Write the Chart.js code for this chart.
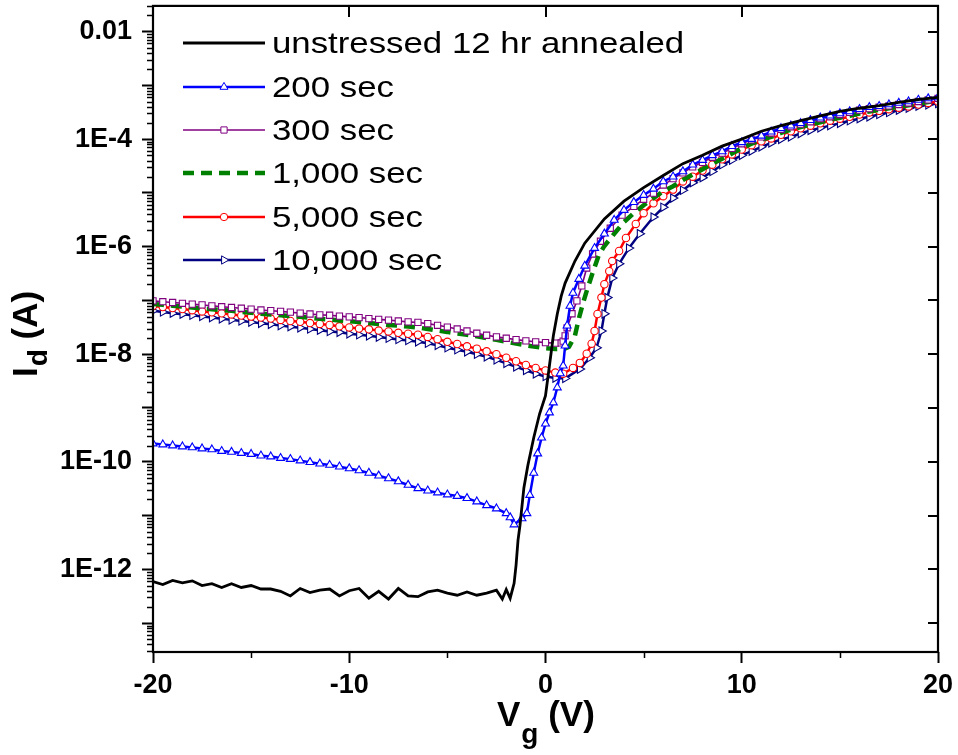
<!DOCTYPE html>
<html lang="en">
<head>
<meta charset="UTF-8">
<title>Id - Vg transfer curves under stress</title>
<script src="https://cdn.jsdelivr.net/npm/chart.js@4"></script>
<style>
  html, body { margin: 0; padding: 0; background: #fff; }
  #wrap { width: 958px; height: 755px; }
</style>
</head>
<body>
<div id="wrap"><canvas id="idvg" width="958" height="755"></canvas></div>
<script>
  // ---- data (Vg in volts, Id in amperes) ----
  const seriesNames = ['unstressed 12 hr annealed', '200 sec', '300 sec', '1,000 sec', '5,000 sec', '10,000 sec'];

  // shared gate-voltage grids
  const vOff = [-20, -19.5, -19, -18.5, -18, -17.5, -17, -16.5, -16, -15.5,
                -15, -14.5, -14, -13.5, -13, -12.5, -12, -11.5, -11, -10.5,
                -10, -9.5, -9, -8.5, -8, -7.5, -7, -6.5, -6, -5.5,
                -5, -4.5, -4, -3.5, -3, -2.5, -2, -1.5, -1, -0.5, 0, 0.5];
  const vOn = [6, 6.5, 7, 7.5, 8, 8.5, 9, 9.5, 10, 10.5, 11, 11.5, 12, 12.5, 13,
               13.5, 14, 14.5, 15, 15.5, 16, 16.5, 17, 17.5, 18, 18.5, 19, 19.5, 20];

  // unstressed
  const vBlackTail = [-2.2, -2, -1.8, -1.6, -1.5, -1.4, -1.3, -1.1, -0.9, -0.6, -0.3, 0, 0.2, 0.4, 0.6, 0.8, 1, 1.5, 2,
                      3, 4, 5, 6, 7, 8, 9, 10, 11, 12, 13, 14, 15, 16, 17, 18, 19, 20];
  const iBlack = [5.9e-13, 5.2e-13, 6.2e-13, 5.6e-13, 6.1e-13, 5.0e-13, 5.4e-13, 4.6e-13, 5.4e-13, 4.6e-13,
                  5.0e-13, 4.3e-13, 4.3e-13, 3.9e-13, 3.2e-13, 4.4e-13, 3.7e-13, 4.1e-13, 4.3e-13, 3.2e-13,
                  4.0e-13, 4.4e-13, 2.9e-13, 3.9e-13, 2.8e-13, 4.4e-13, 3.2e-13, 3.1e-13, 3.8e-13, 4.1e-13,
                  3.6e-13, 3.3e-13, 3.8e-13, 3.3e-13, 3.6e-13, 4.1e-13,
                  2.8e-13, 4.2e-13, 2.9e-13, 5.5e-13, 1.2e-12, 3.5e-12, 6.6e-12, 3.3e-11, 8.5e-11, 2.8e-10, 7.8e-10,
                  1.7e-9, 6.1e-9, 2.2e-8, 5.6e-8, 1.2e-7, 2.1e-7, 5.4e-7, 1.16e-6,
                  3.27e-6, 7.0e-6, 1.25e-5, 2.1e-5, 3.5e-5, 5.0e-5, 7.4e-5, 1.0e-4, 1.4e-4, 1.78e-4,
                  2.2e-4, 2.7e-4, 3.27e-4, 3.75e-4, 4.2e-4, 4.8e-4, 5.45e-4, 5.97e-4];

  // 200 sec
  const v200Tail = [-1.8, -1.6, -1.2, -0.95, -0.8, -0.6, -0.4, -0.2, 0, 0.2, 0.4, 0.6, 0.75, 0.9, 1, 1.1, 1.25, 1.4, 1.7, 2,
                    2.5, 3, 3.5, 4, 4.5, 5, 5.5];
  const i200 = [2.18e-10, 2.09e-10, 2.0e-10, 1.92e-10, 1.84e-10, 1.76e-10, 1.69e-10, 1.58e-10, 1.52e-10, 1.45e-10,
                1.39e-10, 1.30e-10, 1.25e-10, 1.17e-10, 1.12e-10, 1.05e-10, 9.8e-11, 9.2e-11, 8.7e-11, 8.1e-11,
                7.5e-11, 6.9e-11, 6.2e-11, 5.5e-11, 4.9e-11, 4.3e-11, 3.7e-11, 3.2e-11, 2.9e-11, 2.67e-11,
                2.45e-11, 2.3e-11, 2.1e-11, 1.82e-11, 1.55e-11, 1.35e-11, 1.1e-11,
                9.2e-12, 6.8e-12, 8.8e-12, 1.1e-11, 2.4e-11, 6.2e-11, 1.42e-10, 2.8e-10, 5.1e-10, 8.2e-10,
                1.26e-9, 2.4e-9, 4.4e-9, 6.1e-9, 1.44e-8, 3.4e-8, 7.9e-8, 1.38e-7, 2.5e-7, 4.4e-7,
                9.4e-7, 1.74e-6, 3.13e-6, 4.8e-6, 6.7e-6, 9.1e-6, 1.19e-5,
                1.63e-5, 2.0e-5, 2.5e-5, 3.34e-5, 4.07e-5, 5.0e-5, 5.9e-5, 7.4e-5, 8.7e-5, 1.0e-4,
                1.15e-4, 1.37e-4, 1.59e-4, 1.78e-4, 1.97e-4, 2.24e-4, 2.5e-4, 2.72e-4, 3.0e-4, 3.27e-4,
                3.6e-4, 3.92e-4, 4.1e-4, 4.4e-4, 4.7e-4, 5.0e-4, 5.35e-4, 5.7e-4, 5.97e-4];

  // 300 sec
  const v300Tail = [0.8, 0.9, 1, 1.1, 1.35, 1.6, 1.85, 2.1, 2.4, 2.8, 3.3, 3.9, 4.5, 5, 5.5];
  const i300 = [9.8e-8, 9.47e-8, 9.15e-8, 8.85e-8, 8.55e-8, 8.25e-8, 7.95e-8, 7.65e-8, 7.4e-8, 7.15e-8,
                6.9e-8, 6.65e-8, 6.45e-8, 6.25e-8, 6.05e-8, 5.8e-8, 5.6e-8, 5.4e-8, 5.3e-8, 5.1e-8,
                4.95e-8, 4.8e-8, 4.6e-8, 4.45e-8, 4.3e-8, 4.15e-8, 4.0e-8, 3.9e-8, 3.7e-8, 3.45e-8,
                3.2e-8, 2.95e-8, 2.7e-8, 2.45e-8, 2.25e-8, 2.1e-8, 1.98e-8, 1.87e-8, 1.77e-8, 1.7e-8,
                1.64e-8, 1.61e-8,
                1.62e-8, 1.75e-8, 2.2e-8, 3.1e-8, 5.65e-8, 9.8e-8, 1.86e-7, 4.0e-7, 7.3e-7, 1.26e-6,
                2.2e-6, 3.85e-6, 5.6e-6, 7.6e-6, 9.9e-6,
                1.4e-5, 1.84e-5, 2.35e-5, 3.05e-5, 3.7e-5, 4.6e-5, 5.5e-5, 6.7e-5, 8.2e-5, 9.7e-5,
                1.1e-4, 1.3e-4, 1.52e-4, 1.7e-4, 1.9e-4, 2.1e-4, 2.4e-4, 2.6e-4, 2.87e-4, 3.13e-4,
                3.45e-4, 3.68e-4, 3.92e-4, 4.15e-4, 4.4e-4, 4.7e-4, 5.0e-4, 5.35e-4, 5.7e-4];

  // 1,000 sec
  const v1000Tail = [1, 1.2, 1.5, 1.7, 1.9, 2.1, 2.4, 2.7, 3, 3.5, 4, 4.5, 5, 5.5];
  const i1000 = [8.6e-8, 8.3e-8, 8.0e-8, 7.7e-8, 7.4e-8, 7.1e-8, 6.85e-8, 6.6e-8, 6.4e-8, 6.15e-8,
                 5.9e-8, 5.65e-8, 5.45e-8, 5.3e-8, 5.1e-8, 4.95e-8, 4.75e-8, 4.55e-8, 4.4e-8, 4.25e-8,
                 4.1e-8, 3.95e-8, 3.8e-8, 3.65e-8, 3.5e-8, 3.4e-8, 3.27e-8, 3.13e-8, 2.95e-8, 2.75e-8,
                 2.6e-8, 2.42e-8, 2.3e-8, 2.15e-8, 2.0e-8, 1.85e-8, 1.7e-8, 1.58e-8, 1.46e-8, 1.37e-8,
                 1.29e-8, 1.25e-8,
                 1.27e-8, 1.37e-8, 2.2e-8, 4.6e-8, 8.6e-8, 1.5e-7, 3.25e-7, 6.7e-7, 1.03e-6, 1.74e-6,
                 2.87e-6, 4.2e-6, 5.9e-6, 8.0e-6,
                 1.07e-5, 1.33e-5, 1.74e-5, 2.2e-5, 2.75e-5, 3.5e-5, 4.3e-5, 5.4e-5, 6.8e-5, 8.2e-5,
                 9.7e-5, 1.1e-4, 1.3e-4, 1.5e-4, 1.68e-4, 1.87e-4, 2.05e-4, 2.3e-4, 2.5e-4, 2.72e-4,
                 3.0e-4, 3.27e-4, 3.5e-4, 3.75e-4, 4.0e-4, 4.24e-4, 4.6e-4, 4.9e-4, 5.2e-4];

  // 5,000 sec
  const v5000Tail = [0.9, 1.4, 1.75, 2.1, 2.35, 2.5, 2.65, 2.85, 3, 3.25, 3.4, 3.75, 4.1, 4.6, 5, 5.5];
  const i5000 = [7.9e-8, 7.55e-8, 7.2e-8, 6.9e-8, 6.6e-8, 6.25e-8, 6.0e-8, 5.75e-8, 5.5e-8, 5.25e-8,
                 5.0e-8, 4.8e-8, 4.6e-8, 4.35e-8, 4.15e-8, 4.0e-8, 3.8e-8, 3.65e-8, 3.5e-8, 3.3e-8,
                 3.15e-8, 3.0e-8, 2.9e-8, 2.75e-8, 2.65e-8, 2.5e-8, 2.4e-8, 2.3e-8, 2.1e-8, 1.9e-8,
                 1.7e-8, 1.55e-8, 1.4e-8, 1.27e-8, 1.13e-8, 1.0e-8, 8.6e-9, 7.4e-9, 6.3e-9, 5.55e-9,
                 5.0e-9, 4.55e-9,
                 4.35e-9, 5.55e-9, 6.9e-9, 1.02e-8, 1.57e-8, 2.7e-8, 5.6e-8, 1.13e-7, 2.0e-7, 3.5e-7,
                 5.4e-7, 8.3e-7, 1.45e-6, 2.65e-6, 4.2e-6, 6.4e-6,
                 8.7e-6, 1.15e-5, 1.63e-5, 2.0e-5, 2.6e-5, 3.35e-5, 4.2e-5, 5.2e-5, 6.4e-5, 7.7e-5,
                 9.1e-5, 1.03e-4, 1.2e-4, 1.4e-4, 1.59e-4, 1.78e-4, 1.97e-4, 2.2e-4, 2.4e-4, 2.6e-4,
                 2.87e-4, 3.13e-4, 3.35e-4, 3.6e-4, 3.85e-4, 4.05e-4, 4.4e-4, 4.7e-4, 5.0e-4];

  // 10,000 sec
  const v10000Tail = [1, 1.75, 2.25, 2.6, 2.85, 3, 3.15, 3.4, 3.75, 4.25, 4.8, 5.5];
  const i10000 = [6.4e-8, 6.1e-8, 5.8e-8, 5.55e-8, 5.3e-8, 5.05e-8, 4.8e-8, 4.55e-8, 4.35e-8, 4.15e-8,
                  3.95e-8, 3.75e-8, 3.6e-8, 3.4e-8, 3.25e-8, 3.1e-8, 2.95e-8, 2.8e-8, 2.65e-8, 2.55e-8,
                  2.4e-8, 2.3e-8, 2.2e-8, 2.08e-8, 1.98e-8, 1.88e-8, 1.8e-8, 1.7e-8, 1.6e-8, 1.46e-8,
                  1.32e-8, 1.21e-8, 1.11e-8, 1.0e-8, 8.95e-9, 7.85e-9, 6.75e-9, 5.8e-9, 5.0e-9, 4.3e-9,
                  3.85e-9, 3.6e-9,
                  3.55e-9, 5.3e-9, 8.6e-9, 1.32e-8, 2.7e-8, 5.65e-8, 1.13e-7, 2.6e-7, 4.8e-7, 9.4e-7,
                  1.74e-6, 3.55e-6,
                  5.4e-6, 8.0e-6, 1.12e-5, 1.55e-5, 1.92e-5, 2.5e-5, 3.34e-5, 4.07e-5, 5.0e-5, 6.0e-5,
                  7.2e-5, 8.5e-5, 9.9e-5, 1.1e-4, 1.27e-4, 1.45e-4, 1.62e-4, 1.78e-4, 1.97e-4, 2.2e-4,
                  2.4e-4, 2.6e-4, 2.87e-4, 3.13e-4, 3.45e-4, 3.75e-4, 4.1e-4, 4.35e-4, 4.6e-4];

  // axis ticks
  const xMajor = [-20, -10, 0, 10, 20];
  const xMinor = [-15, -5, 5, 15];
  const yDecades = [1e-13, 1e-12, 1e-11, 1e-10, 1e-9, 1e-8, 1e-7, 1e-6, 1e-5, 1e-4, 1e-3, 1e-2];
  const yMin = 2.9e-14, yMax = 0.03;

  const FONT = "'Liberation Sans', Arial, Helvetica, sans-serif";

  function pts(vs, is) {
    return vs.map((v, k) => ({ x: v, y: is[k] }));
  }

  const datasets = [
    { label: seriesNames[0], data: pts(vOff.slice(0, 36).concat(vBlackTail), iBlack),
      borderColor: '#000', borderWidth: 2.8, pointRadius: 0 },
    { label: seriesNames[1], data: pts(vOff.slice(0, 37).concat(v200Tail, vOn), i200),
      borderColor: '#0000ff', borderWidth: 2.5, pointStyle: 'triangle', pointRadius: 4.6 },
    { label: seriesNames[2], data: pts(vOff.concat(v300Tail, vOn), i300),
      borderColor: '#800080', borderWidth: 1.6, pointStyle: 'rect', pointRadius: 4.4 },
    { label: seriesNames[3], data: pts(vOff.concat(v1000Tail, vOn), i1000),
      borderColor: '#008000', borderWidth: 4.5, borderDash: [11, 7], pointRadius: 0 },
    { label: seriesNames[4], data: pts(vOff.concat(v5000Tail, vOn), i5000),
      borderColor: '#ff0000', borderWidth: 2.5, pointStyle: 'circle', pointRadius: 3.7 },
    { label: seriesNames[5], data: pts(vOff.concat(v10000Tail, vOn), i10000),
      borderColor: '#000080', borderWidth: 2.5, pointStyle: 'triangle', pointRotation: 90, pointRadius: 4.8 }
  ].map(d => Object.assign({
    fill: false, tension: 0,
    pointBackgroundColor: '#fff', pointBorderColor: d.borderColor, pointBorderWidth: 1.1,
    pointHoverRadius: 0
  }, d));

  // frame, minor ticks, inward ticks, axis titles and legend
  const decorPlugin = {
    id: 'decor',
    afterDraw(chart) {
      const { ctx, chartArea: a, scales: { x, y } } = chart;
      ctx.save();
      ctx.strokeStyle = '#000';

      ctx.lineWidth = 1.5;
      ctx.beginPath();
      for (let e = -14; e <= -2; e++) {
        for (let m = 2; m <= 9; m++) {
          const v = m * Math.pow(10, e);
          if (v < yMin || v > yMax) continue;
          const py = Math.round(y.getPixelForValue(v)) + 0.5;
          ctx.moveTo(a.left - 6, py); ctx.lineTo(a.left, py);
        }
      }
      xMinor.forEach(v => {
        const px = Math.round(x.getPixelForValue(v)) + 0.5;
        ctx.moveTo(px, a.bottom); ctx.lineTo(px, a.bottom + 6);
      });
      ctx.stroke();

      ctx.lineWidth = 2;
      ctx.beginPath();
      yDecades.forEach(v => {
        const py = Math.round(y.getPixelForValue(v));
        ctx.moveTo(a.right, py); ctx.lineTo(a.right - 10, py);
      });
      xMajor.forEach(v => {
        const px = Math.round(x.getPixelForValue(v));
        ctx.moveTo(px, a.top); ctx.lineTo(px, a.top + 11);
      });
      ctx.stroke();
      ctx.lineWidth = 2.2;
      ctx.strokeRect(a.left, a.top, a.right - a.left, a.bottom - a.top);

      // axis titles with subscripts
      ctx.fillStyle = '#000';
      ctx.textBaseline = 'alphabetic';
      ctx.textAlign = 'left';
      const big = 'bold 35px ' + FONT, small = 'bold 28px ' + FONT;
      let tx = 497;
      ctx.font = big; ctx.fillText('V', tx, 726); tx += ctx.measureText('V').width + 1;
      ctx.font = small; ctx.fillText('g', tx, 743); tx += ctx.measureText('g').width;
      ctx.font = big; ctx.fillText(' (V)', tx, 726);

      ctx.save();
      ctx.translate(37, 377);
      ctx.rotate(-Math.PI / 2);
      tx = 0;
      ctx.font = big; ctx.fillText('I', tx, 0); tx += ctx.measureText('I').width + 1;
      ctx.font = small; ctx.fillText('d', tx, 10); tx += ctx.measureText('d').width;
      ctx.font = big; ctx.fillText(' (A)', tx, 0);
      ctx.restore();

      // legend inside the plot
      const rowY = [43, 87, 130, 173, 217, 260];
      chart.data.datasets.forEach((ds, k) => {
        const ly = rowY[k];
        ctx.save();
        ctx.strokeStyle = ds.borderColor;
        ctx.lineWidth = ds.borderWidth;
        ctx.setLineDash(ds.borderDash || []);
        ctx.beginPath(); ctx.moveTo(183, ly); ctx.lineTo(265, ly); ctx.stroke();
        ctx.setLineDash([]);
        if (ds.pointRadius > 0) {
          ctx.fillStyle = '#fff';
          ctx.strokeStyle = ds.borderColor;
          ctx.lineWidth = 1;
          Chart.helpers.drawPoint(ctx, {
            pointStyle: ds.pointStyle, rotation: ds.pointRotation || 0,
            radius: ds.pointRadius, borderWidth: 1
          }, 224, ly);
        }
        ctx.fillStyle = '#000';
        ctx.font = '30px ' + FONT;
        ctx.translate(272, ly + 10);
        ctx.scale(1.16, 1);
        ctx.fillText(ds.label, 0, 0);
        ctx.restore();
      });
      ctx.restore();
    }
  };

  new Chart(document.getElementById('idvg'), {
    type: 'line',
    data: { datasets: datasets },
    options: {
      responsive: false,
      animation: false,
      events: [],
      layout: { padding: { left: 0, right: 20, top: 4, bottom: 0 } },
      plugins: { legend: { display: false }, tooltip: { enabled: false } },
      scales: {
        x: {
          type: 'linear', min: -20, max: 20,
          afterFit: s => { s.height = 103; s.paddingLeft = 0; s.paddingRight = 0; },
          afterBuildTicks: s => { s.ticks = xMajor.map(v => ({ value: v })); },
          ticks: { color: '#000', padding: 6, maxRotation: 0,
                   font: { family: FONT, size: 27, weight: 'bold' } },
          grid: { drawOnChartArea: false, tickLength: 11, tickWidth: 2, color: '#000' },
          border: { display: false }
        },
        y: {
          type: 'logarithmic', min: yMin, max: yMax,
          afterFit: s => { s.width = 153; s.paddingTop = 0; s.paddingBottom = 0; },
          afterBuildTicks: s => { s.ticks = yDecades.map(v => ({ value: v })); },
          ticks: {
            color: '#000', padding: 10, autoSkip: false,
            font: { family: FONT, size: 27, weight: 'bold' },
            callback: v => {
              const e = Math.round(Math.log10(v));
              if (e % 2 !== 0) return '';
              return e === -2 ? '0.01' : '1E' + e;
            }
          },
          grid: { drawOnChartArea: false, tickLength: 11, tickWidth: 2, color: '#000' },
          border: { display: false }
        }
      }
    },
    plugins: [decorPlugin]
  });
</script>
</body>
</html>
